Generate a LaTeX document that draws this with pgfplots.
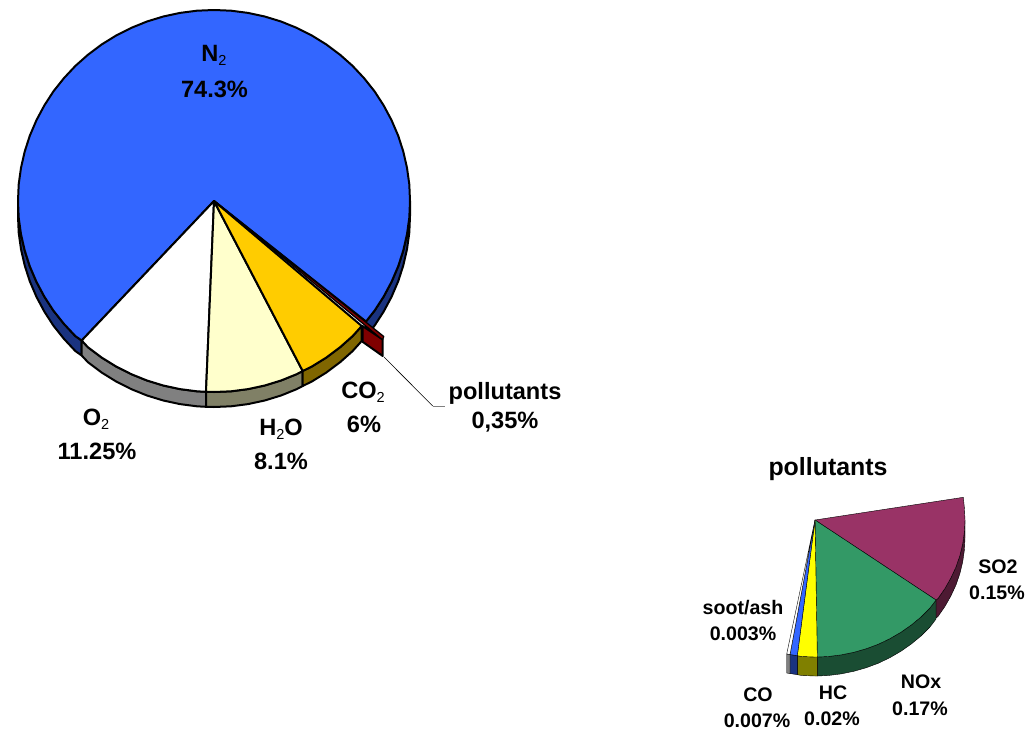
\documentclass[border=0pt]{standalone}
\usepackage{fontspec}
\setmainfont{Liberation Sans}
\usepackage{pgfplots}
\pgfplotsset{compat=1.18}
\definecolor{nitro}{HTML}{3366FF}
\definecolor{nitroside}{HTML}{1A3380}
\definecolor{oxyside}{HTML}{808080}
\definecolor{water}{HTML}{FFFFCC}
\definecolor{waterside}{HTML}{808066}
\definecolor{carbon}{HTML}{FFCC00}
\definecolor{carbonside}{HTML}{806600}
\definecolor{pollut}{HTML}{800000}
\definecolor{sulfur}{HTML}{993366}
\definecolor{sulfurside}{HTML}{4D1A33}
\definecolor{nox}{HTML}{339966}
\definecolor{noxside}{HTML}{1A4D33}
\definecolor{hc}{HTML}{FFFF00}
\definecolor{hcside}{HTML}{808000}
\newcommand{\sub}[1]{\raisebox{-4pt}{\fontsize{14.5}{15}\selectfont\mdseries #1}}
\tikzset{
  big/.style={draw=black, line width=2pt},
  small/.style={draw=black, line width=1.2pt},
  lab/.style={anchor=base, font=\fontsize{23.6}{26}\selectfont\bfseries, inner sep=0pt},
  lbs/.style={anchor=base, font=\fontsize{19.6}{22}\selectfont\bfseries, inner sep=0pt},
}
\begin{document}
\begin{tikzpicture}[x=1pt,y=1pt]
\begin{axis}[
  scale only axis, width=1028pt, height=731pt,
  xmin=0, xmax=1028, ymin=0, ymax=731, y dir=reverse,
  axis lines=none, clip=false,
  every axis plot/.append style={no markers, line join=round, forget plot},
]
% Page extent
\path (axis cs:0,0) -- (axis cs:1028,731);
% Exhaust gas pie: side walls
\addplot[big, fill=nitroside] coordinates {(18,201)(18.7,217.7)(21,234.2)(24.7,250.4)(29.8,266.3)(36.4,281.7)(44.3,296.5)(53.4,310.6)(63.9,323.8)(75.4,336.1)(81.7,340.5)(81.7,355.5)(75.4,351.1)(63.9,338.8)(53.4,325.6)(44.3,311.5)(36.4,296.7)(29.8,281.3)(24.7,265.4)(21,249.2)(18.7,232.7)(18,216)} -- cycle;
\addplot[big, fill=nitroside] coordinates {(410,201)(409.3,217.7)(407,234.2)(403.3,250.4)(398.2,266.3)(391.6,281.7)(383.7,296.5)(374.6,310.6)(366,321.5)(366,336.5)(374.6,325.6)(383.7,311.5)(391.6,296.7)(398.2,281.3)(403.3,265.4)(407,249.2)(409.3,232.7)(410,216)} -- cycle;
\addplot[big, fill=oxyside] coordinates {(81.7,340.5)(88,347.3)(101.6,357.5)(116,366.4)(131.2,374.1)(147,380.5)(163.3,385.5)(180,389.1)(196.9,391.3)(206,391.8)(206,406.8)(196.9,406.3)(180,404.1)(163.3,400.5)(147,395.5)(131.2,389.1)(116,381.4)(101.6,372.5)(88,362.3)(81.7,355.5)} -- cycle;
\addplot[big, fill=waterside] coordinates {(206,391.8)(214,392)(231.1,391.3)(248,389.1)(264.7,385.5)(281,380.5)(296.8,374.1)(302.7,371)(302.7,386)(296.8,389.1)(281,395.5)(264.7,400.5)(248,404.1)(231.1,406.3)(214,407)(206,406.8)} -- cycle;
\addplot[big, fill=carbonside] coordinates {(302.7,371)(312,366.4)(326.4,357.5)(340,347.3)(352.6,336.1)(361.7,326)(361.7,341)(352.6,351.1)(340,362.3)(326.4,372.5)(312,381.4)(302.7,386)} -- cycle;
% Exhaust gas pie: top faces
\addplot[big, fill=nitro] coordinates {(214,201)(366,321.5)(374.6,310.6)(383.7,296.5)(391.6,281.7)(398.2,266.3)(403.3,250.4)(407,234.2)(409.3,217.7)(410,201)(409.3,184.3)(407,167.8)(403.3,151.6)(398.2,135.7)(391.6,120.3)(383.7,105.5)(374.6,91.4)(364.1,78.2)(352.6,65.9)(340,54.7)(326.4,44.5)(312,35.6)(296.8,27.9)(281,21.5)(264.7,16.5)(248,12.9)(231.1,10.7)(214,10)(196.9,10.7)(180,12.9)(163.3,16.5)(147,21.5)(131.2,27.9)(116,35.6)(101.6,44.5)(88,54.7)(75.4,65.9)(63.9,78.2)(53.4,91.4)(44.3,105.5)(36.4,120.3)(29.8,135.7)(24.7,151.6)(21,167.8)(18.7,184.3)(18,201)(18.7,217.7)(21,234.2)(24.7,250.4)(29.8,266.3)(36.4,281.7)(44.3,296.5)(53.4,310.6)(63.9,323.8)(75.4,336.1)(81.7,340.5)} -- cycle;
\addplot[big, fill=white] coordinates {(214,201)(81.7,340.5)(88,347.3)(101.6,357.5)(116,366.4)(131.2,374.1)(147,380.5)(163.3,385.5)(180,389.1)(196.9,391.3)(206,391.8)} -- cycle;
\addplot[big, fill=water] coordinates {(214,201)(206,391.8)(214,392)(231.1,391.3)(248,389.1)(264.7,385.5)(281,380.5)(296.8,374.1)(302.7,371)} -- cycle;
\addplot[big, fill=carbon] coordinates {(214,201)(302.7,371)(312,366.4)(326.4,357.5)(340,347.3)(352.6,336.1)(361.7,326)} -- cycle;
% Pulled-out pollutants slice
\addplot[big, fill=pollut] coordinates {(362.5,326)(382.7,339.5)(382.7,356)(362.5,341.7)} -- cycle;
\addplot[line width=1.2pt, draw=black, fill=pollut] coordinates {(214.5,201)(383.8,336.5)(382.5,339.8)} -- cycle;
% Leader line
\addplot[black, line width=0.6pt] coordinates {(384,357)(432.7,406)};
\addplot[gray, line width=0.8pt] coordinates {(432.7,406)(445,406)};
% Pollutants pie: side walls
\addplot[small, fill=sulfurside] coordinates {(965,520)(964.4,531.9)(962.7,543.8)(959.9,555.5)(956,566.9)(950.9,577.9)(944.9,588.5)(937.9,598.6)(936,600)(936,618)(937.9,616.6)(944.9,606.5)(950.9,595.9)(956,584.9)(959.9,573.5)(962.7,561.8)(964.4,549.9)(965,538)} -- cycle;
\addplot[small, fill=noxside] coordinates {(936,600)(929.9,608.1)(921.1,616.9)(911.4,624.9)(901,632.2)(890,638.6)(878.4,644.2)(866.3,648.7)(853.8,652.3)(841,654.9)(828.1,656.5)(817.3,657)(817.3,676)(828.1,675.5)(841,673.9)(853.8,671.3)(866.3,667.7)(878.4,663.2)(890,657.6)(901,651.2)(911.4,643.9)(921.1,635.9)(929.9,627.1)(936,619)} -- cycle;
\addplot[small, fill=hcside] coordinates {(817.3,657)(815,657)(801.9,656.5)(797.3,655.7)(797.3,674.7)(801.9,675.5)(815,676)(817.3,676)} -- cycle;
\addplot[small, fill=nitroside] coordinates {(797.3,655.7)(790,654.5)(790,673.5)(797.3,674.7)} -- cycle;
\addplot[small, fill=oxyside] coordinates {(790,654.5)(786.7,654)(786.7,673)(790,673.5)} -- cycle;
% Pollutants pie: top faces
\addplot[small, fill=sulfur] coordinates {(815,520)(963.3,497.3)(964.4,508.1)(965,520)(964.4,531.9)(962.7,543.8)(959.9,555.5)(956,566.9)(950.9,577.9)(944.9,588.5)(937.9,598.6)(936,600)} -- cycle;
\addplot[small, fill=nox] coordinates {(815,520)(936,600)(929.9,608.1)(921.1,616.9)(911.4,624.9)(901,632.2)(890,638.6)(878.4,644.2)(866.3,648.7)(853.8,652.3)(841,654.9)(828.1,656.5)(817.3,657)} -- cycle;
\addplot[small, fill=hc] coordinates {(815,520)(817.3,657)(815,657)(801.9,656.5)(797.3,655.7)} -- cycle;
\addplot[small, fill=nitro] coordinates {(815,520)(797.3,655.7)(790,654.5)} -- cycle;
\addplot[small, fill=white] coordinates {(815,520)(790,654.5)(786.7,654)} -- cycle;
% Labels
\node[lab] at (axis cs:214,61) {N\sub{2}};
\node[lab] at (axis cs:214.5,97) {74.3\%};
\node[lab] at (axis cs:96,425) {O\sub{2}};
\node[lab] at (axis cs:97,459) {11.25\%};
\node[lab] at (axis cs:281,435) {H\sub{2}O};
\node[lab] at (axis cs:281,469) {8.1\%};
\node[lab] at (axis cs:363,398.5) {CO\sub{2}};
\node[lab] at (axis cs:364,432) {6\%};
\node[lab] at (axis cs:505,399) {pollutants};
\node[lab] at (axis cs:505,428) {0,35\%};
\node[anchor=base, inner sep=0pt, font=\fontsize{24.9}{27}\selectfont\bfseries] at (axis cs:828,475) {pollutants};
\node[lbs] at (axis cs:998,573) {SO2};
\node[lbs] at (axis cs:997,599) {0.15\%};
\node[lbs] at (axis cs:921,688) {NOx};
\node[lbs] at (axis cs:920,715) {0.17\%};
\node[lbs] at (axis cs:833,699) {HC};
\node[lbs] at (axis cs:832,725) {0.02\%};
\node[lbs] at (axis cs:758,701) {CO};
\node[lbs] at (axis cs:757,727) {0.007\%};
\node[lbs] at (axis cs:743,614) {soot/ash};
\node[lbs] at (axis cs:743,640) {0.003\%};
\end{axis}
\end{tikzpicture}
\end{document}
